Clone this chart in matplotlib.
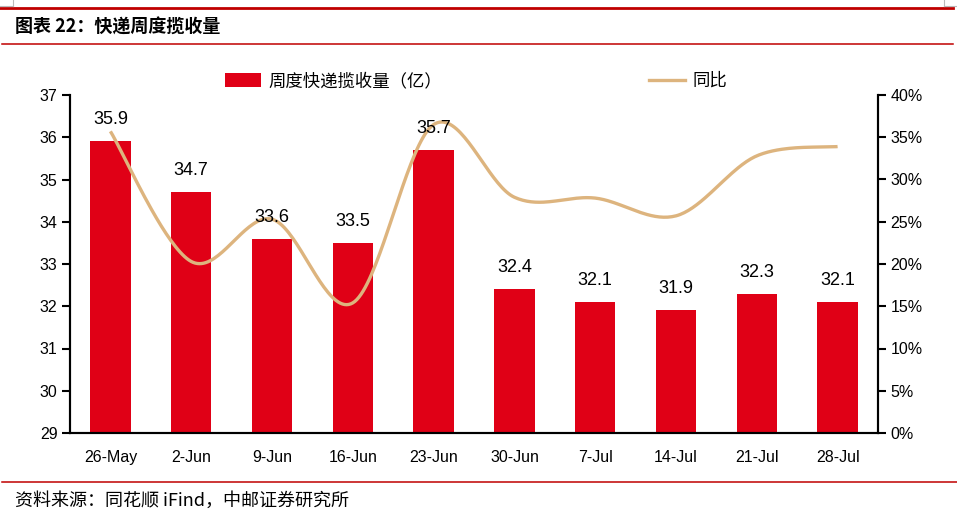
import numpy as np
import matplotlib
matplotlib.use("Agg")
import matplotlib.pyplot as plt
from matplotlib.lines import Line2D
from matplotlib.patches import Patch
from matplotlib.ticker import FuncFormatter, MultipleLocator

plt.rcParams['font.family'] = ['Liberation Sans', 'Noto Sans CJK SC', 'DejaVu Sans']

# ---- data ----
categories = ["26-May", "2-Jun", "9-Jun", "16-Jun", "23-Jun", "30-Jun", "7-Jul", "14-Jul", "21-Jul", "28-Jul"]
volume = [35.9, 34.7, 33.6, 33.5, 35.7, 32.4, 32.1, 31.9, 32.3, 32.1]          # 亿件
yoy = [35.7, 20.3, 25.3, 15.4, 36.5, 27.9, 27.8, 25.7, 32.8, 33.9]              # %

title = "图表 22：快递周度揽收量"
source = "资料来源：同花顺 iFind，中邮证券研究所"
bar_label = "周度快递揽收量（亿）"
line_label = "同比"

BAR_C = "#E00016"
LINE_C = "#DDB47E"
RULE_C = "#C00000"
CJK = ['Noto Sans CJK SC', 'DejaVu Sans']

W, H = 957, 523
fig = plt.figure(figsize=(W / 100, H / 100), dpi=100)
ax = fig.add_axes([70 / W, 1 - 433 / H, (878 - 70) / W, (433 - 95) / H])
ax2 = ax.twinx()

x = np.arange(len(categories))
ax.bar(x, volume, width=0.5, color=BAR_C, zorder=2)
ax.set_ylim(29, 37)
ax.set_xlim(-0.5, len(categories) - 0.5)
ax.yaxis.set_major_locator(MultipleLocator(1))
ax.set_xticks(x)
ax.set_xticklabels(categories, fontsize=11.5)
ax.tick_params(axis='x', length=0, pad=12)
ax.tick_params(axis='y', length=6, width=1.5, labelsize=11.5, pad=3, direction='out')

# smoothed line (Bezier through the data points, Excel-style)
px = np.array(x, dtype=float)
py = np.array(yoy, dtype=float)
n = len(px)
xs, ys = [], []
t = np.linspace(0, 1, 40)
for i in range(n - 1):
    p0 = np.array([px[max(i - 1, 0)], py[max(i - 1, 0)]])
    p1 = np.array([px[i], py[i]])
    p2 = np.array([px[i + 1], py[i + 1]])
    p3 = np.array([px[min(i + 2, n - 1)], py[min(i + 2, n - 1)]])
    c1 = p1 + (p2 - p0) / 6.0
    c2 = p2 - (p3 - p1) / 6.0
    seg = ((1 - t) ** 3)[:, None] * p1 + (3 * (1 - t) ** 2 * t)[:, None] * c1 + \
          (3 * (1 - t) * t ** 2)[:, None] * c2 + (t ** 3)[:, None] * p2
    xs.extend(seg[:, 0]); ys.extend(seg[:, 1])
ax2.plot(xs, ys, color=LINE_C, lw=2.4, solid_capstyle='butt', zorder=3)
ax2.set_ylim(0, 40)
ax2.yaxis.set_major_locator(MultipleLocator(5))
ax2.yaxis.set_major_formatter(FuncFormatter(lambda v, p: f"{v:.0f}%"))
ax2.tick_params(axis='y', length=6, width=1.5, labelsize=11.5, pad=3, direction='out')

# value labels drawn above the line
for xi, v in zip(x, volume):
    ax2.annotate(f"{v:.1f}", (xi, v), xycoords=ax.transData, xytext=(0, 15.5),
                 textcoords='offset points', ha='center', va='center', fontsize=13, zorder=5)

for a in (ax, ax2):
    a.spines['top'].set_visible(False)
    for s in ('left', 'right', 'bottom'):
        a.spines[s].set_linewidth(1.5)
        a.spines[s].set_color('black')

# legend
handles = [Patch(facecolor=BAR_C, edgecolor='none'), Line2D([], [], color=LINE_C, lw=2.4)]
leg = fig.legend(handles, [bar_label, line_label], loc='center left',
                 bbox_to_anchor=(225 / W, 1 - 81 / H), ncol=2, frameon=False,
                 prop={'family': CJK, 'size': 12.5}, handlelength=2.1, handleheight=0.8,
                 handletextpad=0.4, columnspacing=11.9, borderpad=0, borderaxespad=0)

# header / footer
fig.add_artist(Line2D([0, 953 / W], [1 - 7.5 / H] * 2, color=RULE_C, lw=2.0))
fig.add_artist(Line2D([2 / W, 953 / W], [1 - 44 / H] * 2, color=RULE_C, lw=1.1))
fig.add_artist(Line2D([2 / W, 1], [1 - 482 / H] * 2, color=RULE_C, lw=1.1))
fig.add_artist(Line2D([12.5 / W] * 2, [1, 1 - 6 / H], color='#BBBBBB', lw=0.8))
fig.add_artist(Line2D([0, 12.5 / W], [1 - 6 / H] * 2, color='#BBBBBB', lw=0.8))
fig.add_artist(Line2D([943.5 / W] * 2, [1, 1 - 6 / H], color='#BBBBBB', lw=0.8))
fig.add_artist(Line2D([943.5 / W, 1], [1 - 6 / H] * 2, color='#BBBBBB', lw=0.8))

fig.text(15 / W, 1 - 27 / H, title, fontsize=13, fontweight='bold', family=CJK,
         ha='left', va='center')
fig.text(15 / W, 1 - 501 / H, source, fontsize=13, family=CJK, ha='left', va='center')

fig.savefig("out.png", dpi=100)
